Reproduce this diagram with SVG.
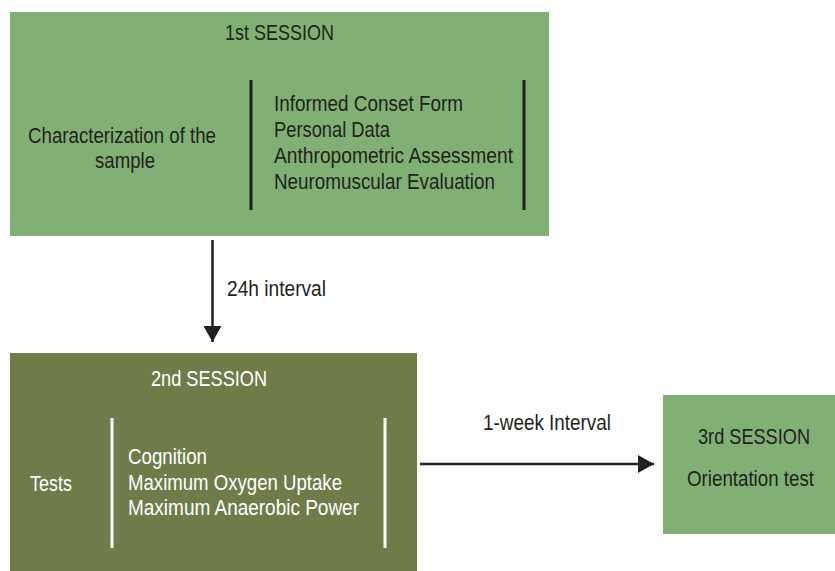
<svg xmlns="http://www.w3.org/2000/svg" width="835" height="571" viewBox="0 0 835 571">
<defs>
<style>
.t{font-family:"Liberation Sans Narrow","Liberation Sans",Arial,sans-serif;font-size:22px;fill:#231f20}
.w{fill:#ffffff}
.dk{stroke:#231f20;stroke-width:3}
.wl{stroke:#ffffff;stroke-width:3}
.conn{stroke:#231f20;stroke-width:2.5;fill:none}
</style>
<marker id="ah" markerUnits="userSpaceOnUse" markerWidth="18" markerHeight="18" refX="16" refY="9" orient="auto">
<path d="M0,0 L16,9 L0,18 Z" fill="#231f20"/>
</marker>
</defs>
<rect width="835" height="571" fill="#ffffff"/>
<g id="session1">
<rect x="10" y="12" width="539" height="224" fill="#81b075"/>
<text class="t" x="225" y="40" textLength="109" lengthAdjust="spacingAndGlyphs">1st SESSION</text>
<text class="t" x="28" y="143" textLength="188" lengthAdjust="spacingAndGlyphs">Characterization of the</text>
<text class="t" x="95" y="168" textLength="60" lengthAdjust="spacingAndGlyphs">sample</text>
<line class="dk" x1="251" y1="80" x2="251" y2="210"/>
<line class="dk" x1="524" y1="80" x2="524" y2="210"/>
<text class="t" x="274" y="111" textLength="189" lengthAdjust="spacingAndGlyphs">Informed Conset Form</text>
<text class="t" x="274" y="137" textLength="116" lengthAdjust="spacingAndGlyphs">Personal Data</text>
<text class="t" x="274" y="163" textLength="239" lengthAdjust="spacingAndGlyphs">Anthropometric Assessment</text>
<text class="t" x="274" y="189" textLength="221" lengthAdjust="spacingAndGlyphs">Neuromuscular Evaluation</text>
</g>
<g id="session2">
<rect x="10" y="353" width="407" height="218" fill="#6f7c4a"/>
<text class="t w" x="151" y="386" textLength="116" lengthAdjust="spacingAndGlyphs">2nd SESSION</text>
<text class="t w" x="30" y="491" textLength="42" lengthAdjust="spacingAndGlyphs">Tests</text>
<line class="wl" x1="112" y1="418" x2="112" y2="548"/>
<line class="wl" x1="385" y1="418" x2="385" y2="548"/>
<text class="t w" x="128" y="464" textLength="79" lengthAdjust="spacingAndGlyphs">Cognition</text>
<text class="t w" x="128" y="490" textLength="214" lengthAdjust="spacingAndGlyphs">Maximum Oxygen Uptake</text>
<text class="t w" x="128" y="515" textLength="231" lengthAdjust="spacingAndGlyphs">Maximum Anaerobic Power</text>
</g>
<g id="session3">
<rect x="663" y="395" width="172" height="139" fill="#81b075"/>
<text class="t" x="698" y="444" textLength="112" lengthAdjust="spacingAndGlyphs">3rd SESSION</text>
<text class="t" x="687" y="486" textLength="127" lengthAdjust="spacingAndGlyphs">Orientation test</text>
</g>
<g id="connectors">
<line class="conn" x1="212.5" y1="240" x2="212.5" y2="342" marker-end="url(#ah)"/>
<text class="t" x="227" y="296" textLength="99" lengthAdjust="spacingAndGlyphs">24h interval</text>
<line class="conn" x1="420" y1="464" x2="654" y2="464" marker-end="url(#ah)"/>
<text class="t" x="483" y="430" textLength="128" lengthAdjust="spacingAndGlyphs">1-week Interval</text>
</g>
</svg>
